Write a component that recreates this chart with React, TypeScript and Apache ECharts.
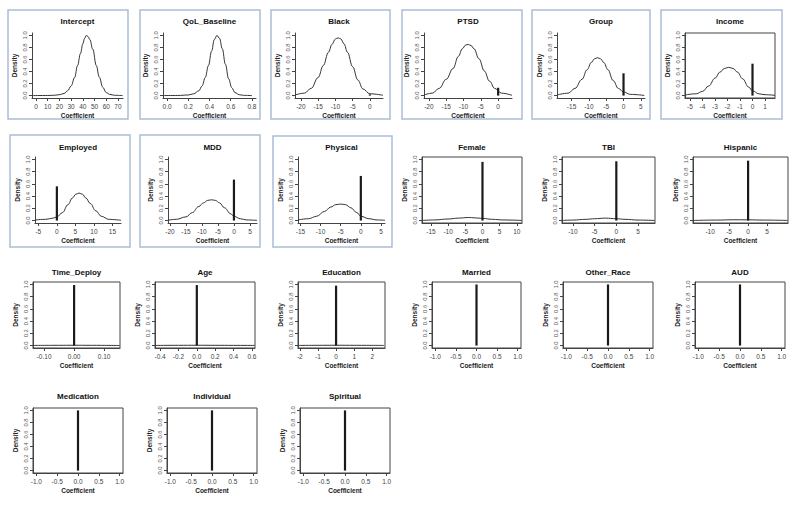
import React, { useEffect, useRef } from "react";
import * as echarts from "echarts";

// ---------- data ----------
const panelNames = [
  "Intercept", "QoL_Baseline", "Black", "PTSD", "Group", "Income",
  "Employed", "MDD", "Physical", "Female", "TBI", "Hispanic",
  "Time_Deploy", "Age", "Education", "Married", "Other_Race", "AUD",
  "Medication", "Individual", "Spiritual",
];

const interceptX = [-3.4, 10, 16, 20, 24, 27, 30, 33, 35.5, 38, 40, 41.5, 43, 44.5, 46, 48.5, 51.5, 54, 57, 60, 63, 67, 74];
const interceptY = [0, 0.002, 0.006, 0.015, 0.035, 0.08, 0.16, 0.3, 0.5, 0.7, 0.86, 0.95, 1.0, 0.98, 0.93, 0.77, 0.5, 0.31, 0.14, 0.05, 0.02, 0.005, 0];
const qolX = [-0.038, 0.1, 0.2, 0.25, 0.3, 0.33, 0.36, 0.39, 0.42, 0.445, 0.47, 0.495, 0.52, 0.55, 0.58, 0.61, 0.64, 0.68, 0.72, 0.8];
const qolY = [0, 0.002, 0.01, 0.03, 0.08, 0.16, 0.3, 0.5, 0.74, 0.93, 1.0, 0.95, 0.78, 0.52, 0.28, 0.13, 0.05, 0.015, 0.004, 0];
const blackX = [-21.7, -19, -17, -15, -13.5, -12, -11, -10, -9.2, -8.4, -7.5, -6.5, -5, -3.5, -2, 0, 3.8];
const blackY = [0.01, 0.04, 0.12, 0.3, 0.5, 0.72, 0.85, 0.94, 0.96, 0.94, 0.86, 0.72, 0.48, 0.26, 0.11, 0.03, 0.005];
const ptsdX = [-21.4, -19, -17, -15, -13, -11.5, -10.3, -9.4, -8.6, -7.8, -7, -5.5, -4, -2.5, -1, 1, 4];
const ptsdY = [0.01, 0.04, 0.12, 0.27, 0.45, 0.65, 0.78, 0.84, 0.85, 0.83, 0.78, 0.61, 0.41, 0.24, 0.12, 0.04, 0.005];
const groupX = [-19.2, -16, -14, -12, -10.5, -9.3, -8.4, -7.5, -6.6, -5.7, -4.5, -3, -1.5, 0, 2, 6];
const groupY = [0.01, 0.04, 0.12, 0.27, 0.43, 0.55, 0.61, 0.63, 0.61, 0.55, 0.43, 0.25, 0.12, 0.06, 0.02, 0.003];
const incomeX = [-5.4, -4.5, -4, -3.5, -3, -2.6, -2.25, -1.9, -1.55, -1.2, -0.8, -0.3, 0, 0.5, 1, 1.8];
const incomeY = [0.01, 0.03, 0.07, 0.16, 0.29, 0.39, 0.45, 0.47, 0.45, 0.39, 0.28, 0.14, 0.08, 0.03, 0.015, 0.004];
const employedX = [-5.9, -3, -1, 0, 1.5, 3, 4.2, 5.1, 6, 6.9, 7.8, 9, 10.5, 12, 14, 17.3];
const employedY = [0.01, 0.02, 0.04, 0.06, 0.13, 0.26, 0.37, 0.43, 0.45, 0.43, 0.37, 0.28, 0.16, 0.07, 0.02, 0.004];
const mddX = [-20.6, -18, -15, -13, -11, -9.5, -8.2, -7, -5.8, -4.5, -3, -1, 0, 2, 4, 7.2];
const mddY = [0.005, 0.02, 0.06, 0.13, 0.23, 0.29, 0.33, 0.34, 0.33, 0.29, 0.21, 0.11, 0.07, 0.03, 0.01, 0.003];
const physicalX = [-15.6, -13, -11, -9, -7.5, -6.2, -5, -3.8, -2.5, -1, 0, 2, 4, 6];
const physicalY = [0.01, 0.03, 0.07, 0.15, 0.22, 0.26, 0.27, 0.26, 0.21, 0.13, 0.07, 0.03, 0.01, 0.005];
const femaleX = [-17.5, -14, -10, -7, -4, -1, 0, 3, 6, 11.4];
const femaleY = [0.002, 0.01, 0.025, 0.04, 0.05, 0.04, 0.035, 0.02, 0.01, 0.002];
const tbiX = [-12.4, -10, -7, -5, -2.5, 0, 2, 5, 8.8];
const tbiY = [0.002, 0.008, 0.02, 0.03, 0.04, 0.03, 0.02, 0.008, 0.002];
const hispanicX = [-14.4, -8, -4, 0, 4, 10.4];
const hispanicY = [0.002, 0.008, 0.013, 0.012, 0.008, 0.002];
const timeDeployX = [-0.136, -0.05, 0, 0.05, 0.152];
const timeDeployY = [0.002, 0.004, 0.005, 0.004, 0.001];
const ageX = [-0.45, -0.2, 0, 0.2, 0.4, 0.63];
const ageY = [0.002, 0.004, 0.005, 0.004, 0.003, 0.002];
const educationX = [-2.05, -1, 0, 1, 2.65];
const educationY = [0.002, 0.004, 0.005, 0.004, 0.002];

const spikeHeights = [0, 0, 0.02, 0.13, 0.37, 0.53, 0.56, 0.67, 0.73, 0.96, 0.97, 0.98, 0.99, 0.99, 0.98, 1, 1, 1, 1, 1, 1];

const interceptTicks = [0, 10, 20, 30, 40, 50, 60, 70];
const qolTicks = [0, 0.2, 0.4, 0.6, 0.8];
const blackTicks = [-20, -15, -10, -5, 0];
const groupTicks = [-15, -10, -5, 0, 5];
const incomeTicks = [-5, -4, -3, -2, -1, 0, 1];
const employedTicks = [-5, 0, 5, 10, 15];
const mddTicks = [-20, -15, -10, -5, 0, 5];
const femaleTicks = [-15, -10, -5, 0, 5, 10];
const tbiTicks = [-10, -5, 0, 5];
const timeDeployTicks = [-0.1, 0, 0.1];
const ageTicks = [-0.4, -0.2, 0, 0.2, 0.4, 0.6];
const educationTicks = [-2, -1, 0, 1, 2];
const unitTicks = [-1, -0.5, 0, 0.5, 1];
const densityTicks = [0, 0.2, 0.4, 0.6, 0.8, 1.0];

const tickDecimals = [0, 1, 0, 0, 0, 0, 0, 0, 0, 0, 0, 0, 2, 1, 0, 1, 1, 1, 1, 1, 1];

// ---------- assembly ----------
const curvesX = [interceptX, qolX, blackX, ptsdX, groupX, incomeX, employedX, mddX, physicalX, femaleX, tbiX, hispanicX, timeDeployX, ageX, educationX, null, null, null, null, null, null];
const curvesY = [interceptY, qolY, blackY, ptsdY, groupY, incomeY, employedY, mddY, physicalY, femaleY, tbiY, hispanicY, timeDeployY, ageY, educationY, null, null, null, null, null, null];
const panelTicks = [interceptTicks, qolTicks, blackTicks, blackTicks, groupTicks, incomeTicks, employedTicks, mddTicks, groupTicks, femaleTicks, tbiTicks, tbiTicks, timeDeployTicks, ageTicks, educationTicks, unitTicks, unitTicks, unitTicks, unitTicks, unitTicks, unitTicks];

// axis extents (R style padding)
const xMins = [-3.4, -0.038, -21.7, -21.4, -19.2, -5.4, -5.9, -20.6, -15.6, -17.6, -12.5, -14.5, -0.137, -0.455, -2.1, -1.08, -1.08, -1.08, -1.08, -1.08, -1.08];
const xMaxs = [74.3, 0.838, 3.8, 4.0, 6.2, 1.8, 17.3, 7.2, 6.0, 11.5, 8.9, 10.5, 0.153, 0.633, 2.7, 1.08, 1.08, 1.08, 1.08, 1.08, 1.08];

// layout
const panelRow = [0, 0, 0, 0, 0, 0, 1, 1, 1, 1, 1, 1, 2, 2, 2, 2, 2, 2, 3, 3, 3];
const boxLeft = [32, 163, 295, 424, 557, 685, 35, 168, 298, 422, 562, 693, 33, 155, 298, 432, 563, 695, 33, 167, 300];
const boxRight = [123, 256, 383, 512, 645, 775, 121, 257, 385, 522, 655, 788, 120, 255, 385, 521, 653, 785, 123, 257, 390];
const rowTop = [33, 157, 282, 408];
const rowHeight = [65, 66, 66, 65];
const rowTitleY = [21, 147, 272, 396];
const boxed = [false, false, false, false, false, true, false, false, false, true, true, true, true, true, true, true, true, true, true, true, true];
const frames = [
  [8, 10, 120, 109], [140, 10, 120, 109], [271, 10, 119, 109], [402, 10, 120, 109], [532, 10, 118, 109], [661, 10, 121, 109],
  [10, 135, 120, 112], [140, 135, 120, 112], [273, 136, 119, 111],
];

const FONT = "'Liberation Sans', Arial, Helvetica, sans-serif";
const AXIS = "#444";

function buildOption() {
  const grid: any[] = [];
  const xAxis: any[] = [];
  const yAxis: any[] = [];
  const series: any[] = [];
  const graphic: any[] = [];

  frames.forEach((f) => {
    graphic.push({
      type: "rect",
      shape: { x: f[0], y: f[1], width: f[2], height: f[3] },
      style: { fill: "none", stroke: "#a9bdd6", lineWidth: 1.5 },
      z: -1,
      silent: true,
    });
  });

  panelNames.forEach((name, i) => {
    const r = panelRow[i];
    const left = boxLeft[i];
    const width = boxRight[i] - boxLeft[i];
    grid.push({
      left,
      top: rowTop[r],
      width,
      height: rowHeight[r],
      show: boxed[i],
      borderColor: AXIS,
      borderWidth: 1,
      backgroundColor: "transparent",
    });
    const dec = tickDecimals[i];
    xAxis.push({
      type: "value",
      gridIndex: i,
      min: xMins[i],
      max: xMaxs[i],
      name: "Coefficient",
      nameLocation: "middle",
      nameGap: 14,
      nameTextStyle: { fontSize: 6.5, fontWeight: "bold", color: "#222", fontFamily: FONT },
      axisLine: { show: true, onZero: false, lineStyle: { color: AXIS, width: 1 } },
      axisTick: { show: true, inside: false, length: 3, customValues: panelTicks[i], lineStyle: { color: AXIS, width: 1 } },
      axisLabel: {
        show: true,
        customValues: panelTicks[i],
        formatter: (v: number) => Number(v).toFixed(dec),
        fontSize: 6.5,
        color: "#444",
        fontFamily: FONT,
        margin: 5,
        hideOverlap: false,
      },
      splitLine: { show: false },
    });
    yAxis.push({
      type: "value",
      gridIndex: i,
      min: -0.04,
      max: 1.04,
      name: "Density",
      nameLocation: "middle",
      nameGap: 14,
      nameRotate: 90,
      nameTextStyle: { fontSize: 6.5, fontWeight: "bold", color: "#222", fontFamily: FONT },
      axisLine: { show: true, onZero: false, lineStyle: { color: AXIS, width: 1 } },
      axisTick: { show: true, inside: false, length: 3, customValues: densityTicks, lineStyle: { color: AXIS, width: 1 } },
      axisLabel: {
        show: true,
        customValues: densityTicks,
        rotate: 90,
        formatter: (v: number) => Number(v).toFixed(1),
        fontSize: 5.8,
        color: "#555",
        fontFamily: FONT,
        margin: 4,
        hideOverlap: false,
      },
      splitLine: { show: false },
    });

    const cx = curvesX[i];
    const cy = curvesY[i];
    if (cx && cy) {
      series.push({
        type: "line",
        xAxisIndex: i,
        yAxisIndex: i,
        data: cx.map((x, k) => [x, cy[k]]),
        smooth: 0.4,
        smoothMonotone: "x",
        symbol: "none",
        showSymbol: false,
        lineStyle: { color: "#333", width: 1 },
        silent: true,
      });
    }
    if (spikeHeights[i] > 0) {
      series.push({
        type: "line",
        xAxisIndex: i,
        yAxisIndex: i,
        data: [[0, 0], [0, spikeHeights[i]]],
        symbol: "none",
        showSymbol: false,
        lineStyle: { color: "#1a1a1a", width: 2.2 },
        silent: true,
      });
    }

    graphic.push({
      type: "text",
      x: left + width / 2,
      y: rowTitleY[r],
      style: {
        text: name,
        align: "center",
        verticalAlign: "middle",
        font: `bold 8px ${FONT}`,
        fill: "#111",
      },
      silent: true,
    });
  });

  return {
    animation: false,
    backgroundColor: "#ffffff",
    grid,
    xAxis,
    yAxis,
    series,
    graphic,
  };
}

export default function App() {
  const ref = useRef<HTMLDivElement>(null);
  useEffect(() => {
    if (!ref.current) return;
    const chart = echarts.init(ref.current, undefined, { renderer: "svg" });
    chart.setOption(buildOption() as any);
    return () => chart.dispose();
  }, []);
  return (
    <div
      ref={ref}
      style={{ position: "fixed", left: 0, top: 0, width: 800, height: 505, background: "#fff" }}
    />
  );
}
